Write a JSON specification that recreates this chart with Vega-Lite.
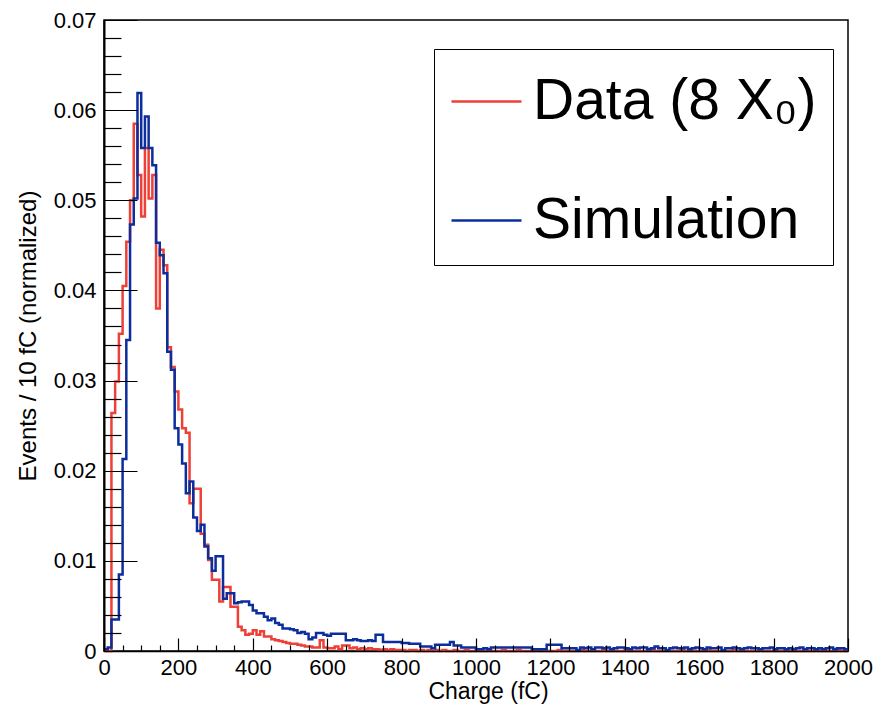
{
  "$schema": "https://vega.github.io/schema/vega-lite/v6.json",
  "width": 744,
  "height": 631,
  "autosize": {"type": "none"},
  "padding": {"left": 104, "top": 20, "right": 36, "bottom": 57},
  "background": "white",
  "data": {"values": [
    {"x":0,"d":0,"m":0.0002},{"x":10,"d":0,"m":0.0004},{"x":20,"d":0.0264,"m":0.0035},{"x":30,"d":0.0299,"m":0.0035},{"x":40,"d":0.0352,"m":0.0085},
    {"x":50,"d":0.0405,"m":0.0213},{"x":60,"d":0.0454,"m":0.0345},{"x":70,"d":0.05,"m":0.0473},{"x":80,"d":0.0585,"m":0.0502},{"x":90,"d":0.0528,"m":0.0619},
    {"x":100,"d":0.0482,"m":0.0558},{"x":110,"d":0.0558,"m":0.0593},{"x":120,"d":0.0502,"m":0.0558},{"x":130,"d":0.0528,"m":0.0539},{"x":140,"d":0.038,"m":0.0453},
    {"x":150,"d":0.0445,"m":0.0439},{"x":160,"d":0.0428,"m":0.0419},{"x":170,"d":0.0337,"m":0.0332},{"x":180,"d":0.0315,"m":0.0312},{"x":190,"d":0.0288,"m":0.0247},
    {"x":200,"d":0.0268,"m":0.0229},{"x":210,"d":0.0247,"m":0.0208},{"x":220,"d":0.0242,"m":0.0175},{"x":230,"d":0.0164,"m":0.0188},{"x":240,"d":0.018,"m":0.0148},
    {"x":250,"d":0.018,"m":0.0133},{"x":260,"d":0.013,"m":0.014},{"x":270,"d":0.0118,"m":0.0116},{"x":280,"d":0.0101,"m":0.0103},{"x":290,"d":0.0079,"m":0.0089},
    {"x":300,"d":0.0079,"m":0.0105},{"x":310,"d":0.0055,"m":0.0105},{"x":320,"d":0.0071,"m":0.0058},{"x":330,"d":0.0071,"m":0.0064},{"x":340,"d":0.0049,"m":0.0064},
    {"x":350,"d":0.0049,"m":0.0053},{"x":360,"d":0.0027,"m":0.0054},{"x":370,"d":0.0023,"m":0.0055},{"x":380,"d":0.0018,"m":0.0055},{"x":390,"d":0.0019,"m":0.0051},
    {"x":400,"d":0.0023,"m":0.0045},{"x":410,"d":0.0018,"m":0.0042},{"x":420,"d":0.0022,"m":0.0042},{"x":430,"d":0.0016,"m":0.0038},{"x":440,"d":0.0016,"m":0.0034},
    {"x":450,"d":0.0013,"m":0.0036},{"x":460,"d":0.0012,"m":0.0031},{"x":470,"d":0.0011,"m":0.0029},{"x":480,"d":0.001,"m":0.0025},{"x":490,"d":0.0009,"m":0.0025},
    {"x":500,"d":0.0008,"m":0.0024},{"x":510,"d":0.0008,"m":0.0023},{"x":520,"d":0.0007,"m":0.002},{"x":530,"d":0.0006,"m":0.0021},{"x":540,"d":0.0005,"m":0.0019},
    {"x":550,"d":0.0005,"m":0.0013},{"x":560,"d":0.0004,"m":0.0015},{"x":570,"d":0.0004,"m":0.002},{"x":580,"d":0.0012,"m":0.002},{"x":590,"d":0.0004,"m":0.0018},
    {"x":600,"d":0.0003,"m":0.0017},{"x":610,"d":0.0003,"m":0.0019},{"x":620,"d":0.0005,"m":0.0019},{"x":630,"d":0.0002,"m":0.0019},{"x":640,"d":0.0006,"m":0.0019},
    {"x":650,"d":0.0006,"m":0.0012},{"x":660,"d":0.0003,"m":0.0012},{"x":670,"d":0.0004,"m":0.0013},{"x":680,"d":0.0002,"m":0.0012},{"x":690,"d":0.0003,"m":0.0011},
    {"x":700,"d":0.0002,"m":0.0011},{"x":710,"d":0.0003,"m":0.0012},{"x":720,"d":0.0002,"m":0.0011},{"x":730,"d":0.0002,"m":0.0018},{"x":740,"d":0.0001,"m":0.0018},
    {"x":750,"d":0.0002,"m":0.001},{"x":760,"d":0.0001,"m":0.001},{"x":770,"d":0.0002,"m":0.001},{"x":780,"d":0.0001,"m":0.001},{"x":790,"d":0.0001,"m":0.001},
    {"x":800,"d":0.0001,"m":0.0009},{"x":810,"d":0,"m":0.0009},{"x":820,"d":0.0001,"m":0.0008},{"x":830,"d":0.0001,"m":0.0008},{"x":840,"d":0,"m":0.0008},
    {"x":850,"d":0.0001,"m":0.0005},{"x":860,"d":0,"m":0.0005},{"x":870,"d":0.0001,"m":0.0005},{"x":880,"d":0,"m":0.0003},{"x":890,"d":0.0001,"m":0.0007},
    {"x":900,"d":0,"m":0.0007},{"x":910,"d":0.0001,"m":0.0007},{"x":920,"d":0,"m":0.0007},{"x":930,"d":0,"m":0.001},{"x":940,"d":0.0001,"m":0.0006},
    {"x":950,"d":0,"m":0.0006},{"x":960,"d":0,"m":0.0004},{"x":970,"d":0.0001,"m":0.0004},{"x":980,"d":0,"m":0.0004},{"x":990,"d":0,"m":0.0004},
    {"x":1000,"d":0.0001,"m":0.0002},{"x":1010,"d":0,"m":0.0002},{"x":1020,"d":0,"m":0.0003},{"x":1030,"d":0.0001,"m":0.0002},{"x":1040,"d":0,"m":0.0004},
    {"x":1050,"d":0,"m":0.0004},{"x":1060,"d":0,"m":0.0004},{"x":1070,"d":0.0001,"m":0.0004},{"x":1080,"d":0,"m":0.0004},{"x":1090,"d":0,"m":0.0004},
    {"x":1100,"d":0,"m":0.0004},{"x":1110,"d":0.0001,"m":0.0004},{"x":1120,"d":0,"m":0.0004},{"x":1130,"d":0,"m":0.0004},{"x":1140,"d":0,"m":0.0004},
    {"x":1150,"d":0,"m":0.0002},{"x":1160,"d":0.0001,"m":0.0002},{"x":1170,"d":0,"m":0.0002},{"x":1180,"d":0,"m":0.0002},{"x":1190,"d":0,"m":0.0007},
    {"x":1200,"d":0,"m":0.0007},{"x":1210,"d":0,"m":0.0007},{"x":1220,"d":0.0001,"m":0.0007},{"x":1230,"d":0,"m":0.0003},{"x":1240,"d":0,"m":0.0003},
    {"x":1250,"d":0,"m":0.0003},{"x":1260,"d":0,"m":0.0003},{"x":1270,"d":0,"m":0.0001},{"x":1280,"d":0.0001,"m":0.0004},{"x":1290,"d":0,"m":0.0003},
    {"x":1300,"d":0,"m":0.0004},{"x":1310,"d":0,"m":0.0002},{"x":1320,"d":0,"m":0.0004},{"x":1330,"d":0,"m":0.0004},{"x":1340,"d":0.0001,"m":0.0003},
    {"x":1350,"d":0,"m":0.0004},{"x":1360,"d":0,"m":0.0002},{"x":1370,"d":0,"m":0.0003},{"x":1380,"d":0,"m":0.0004},{"x":1390,"d":0,"m":0.0004},
    {"x":1400,"d":0.0001,"m":0.0003},{"x":1410,"d":0,"m":0.0002},{"x":1420,"d":0,"m":0.0004},{"x":1430,"d":0,"m":0.0003},{"x":1440,"d":0,"m":0.0004},
    {"x":1450,"d":0,"m":0.0004},{"x":1460,"d":0,"m":0.0002},{"x":1470,"d":0.0001,"m":0.0003},{"x":1480,"d":0,"m":0.0005},{"x":1490,"d":0,"m":0.0003},
    {"x":1500,"d":0,"m":0.0003},{"x":1510,"d":0,"m":0.0001},{"x":1520,"d":0,"m":0.0003},{"x":1530,"d":0,"m":0.0004},{"x":1540,"d":0,"m":0.0003},
    {"x":1550,"d":0.0001,"m":0.0003},{"x":1560,"d":0,"m":0.0004},{"x":1570,"d":0,"m":0.0002},{"x":1580,"d":0,"m":0.0003},{"x":1590,"d":0,"m":0.0004},
    {"x":1600,"d":0,"m":0.0003},{"x":1610,"d":0,"m":0.0002},{"x":1620,"d":0.0001,"m":0.0004},{"x":1630,"d":0,"m":0.0003},{"x":1640,"d":0,"m":0.0003},
    {"x":1650,"d":0,"m":0.0004},{"x":1660,"d":0,"m":0.0001},{"x":1670,"d":0,"m":0.0003},{"x":1680,"d":0,"m":0.0003},{"x":1690,"d":0.0001,"m":0.0004},
    {"x":1700,"d":0,"m":0.0003},{"x":1710,"d":0,"m":0.0002},{"x":1720,"d":0,"m":0.0003},{"x":1730,"d":0,"m":0.0004},{"x":1740,"d":0,"m":0.0003},
    {"x":1750,"d":0,"m":0.0003},{"x":1760,"d":0.0001,"m":0.0002},{"x":1770,"d":0,"m":0.0003},{"x":1780,"d":0,"m":0.0003},{"x":1790,"d":0,"m":0.0004},
    {"x":1800,"d":0,"m":0.0002},{"x":1810,"d":0,"m":0.0003},{"x":1820,"d":0,"m":0.0003},{"x":1830,"d":0.0001,"m":0.0002},{"x":1840,"d":0,"m":0.0003},
    {"x":1850,"d":0,"m":0.0002},{"x":1860,"d":0,"m":0.0003},{"x":1870,"d":0,"m":0.0004},{"x":1880,"d":0,"m":0.0002},{"x":1890,"d":0,"m":0.0003},
    {"x":1900,"d":0,"m":0.0003},{"x":1910,"d":0.0001,"m":0.0002},{"x":1920,"d":0,"m":0.0003},{"x":1930,"d":0,"m":0.0002},{"x":1940,"d":0,"m":0.0003},
    {"x":1950,"d":0,"m":0.0004},{"x":1960,"d":0,"m":0.0002},{"x":1970,"d":0.0001,"m":0.0003},{"x":1980,"d":0,"m":0.0003},{"x":1990,"d":0,"m":0.0002},
    {"x":2000,"d":0,"m":0.0002}
  ]},
  "transform": [{"fold": ["d", "m"], "as": ["series", "y"]}],
  "layer": [
    {
      "mark": {"type": "line", "interpolate": "step-after", "strokeWidth": 2.5, "strokeJoin": "miter"},
      "encoding": {
        "x": {
          "field": "x", "type": "quantitative",
          "scale": {"domain": [0, 2000], "nice": false, "zero": false},
          "axis": {
            "orient": "bottom",
            "values": [0, 200, 400, 600, 800, 1000, 1200, 1400, 1600, 1800, 2000],
            "format": "d",
            "tickSize": -13, "tickWidth": 1.2, "tickColor": "black",
            "labelPadding": 19, "labelFontSize": 22, "labelColor": "black",
            "labelFlush": false, "labelOverlap": false,
            "domain": true, "domainColor": "black", "domainWidth": 1.5,
            "grid": false, "zindex": 1,
            "title": "Charge (fC)", "titleFontSize": 23, "titleFontWeight": "normal", "titleColor": "black",
            "titleX": 384, "titleY": 47, "titleBaseline": "alphabetic", "titleAlign": "center"
          }
        },
        "y": {
          "field": "y", "type": "quantitative",
          "scale": {"domain": [0, 0.07], "nice": false},
          "axis": {
            "orient": "left",
            "values": [0, 0.01, 0.02, 0.03, 0.04, 0.05, 0.06, 0.07],
            "labelExpr": "datum.value == 0 ? '0' : format(datum.value, '.2f')",
            "tickSize": -33, "tickWidth": 1.2, "tickColor": "black",
            "labelPadding": 41, "labelFontSize": 22, "labelColor": "black",
            "labelFlush": false, "labelOverlap": false,
            "domain": true, "domainColor": "black", "domainWidth": 2,
            "grid": false, "zindex": 1,
            "title": "Events / 10 fC (normalized)", "titleFontSize": 24, "titleFontWeight": "normal", "titleColor": "black",
            "titleX": -76, "titleY": 315.5, "titleBaseline": "middle", "titleAlign": "center", "titleAngle": -90
          }
        },
        "color": {
          "field": "series", "type": "nominal",
          "scale": {"domain": ["d", "m"], "range": ["#ee4036", "#0c2e9c"]},
          "legend": {
            "orient": "none", "legendX": 330, "legendY": 29,
            "direction": "vertical", "title": null,
            "labelExpr": "datum.label == 'd' ? 'Data (8 X₀)' : 'Simulation'",
            "symbolType": "stroke", "symbolSize": 4900, "symbolStrokeWidth": 2.5,
            "labelFontSize": 57, "labelColor": "black", "labelLimit": 0, "labelOffset": 10,
            "padding": 16, "rowPadding": 54,
            "strokeColor": "black", "fillColor": "white"
          }
        }
      }
    },
    {
      "mark": {"type": "line", "opacity": 0},
      "encoding": {
        "x": {
          "field": "x", "type": "quantitative",
          "axis": {
            "orient": "bottom",
            "values": [50,100,150,250,300,350,450,500,550,650,700,750,850,900,950,1050,1100,1150,1250,1300,1350,1450,1500,1550,1650,1700,1750,1850,1900,1950],
            "tickSize": -6, "tickWidth": 1.2, "tickColor": "black",
            "labels": false, "domain": false, "grid": false, "title": null, "zindex": 1
          }
        },
        "y": {
          "field": "y", "type": "quantitative",
          "axis": {
            "orient": "left",
            "values": [0.002,0.004,0.006,0.008,0.012,0.014,0.016,0.018,0.022,0.024,0.026,0.028,0.032,0.034,0.036,0.038,0.042,0.044,0.046,0.048,0.052,0.054,0.056,0.058,0.062,0.064,0.066,0.068],
            "tickSize": -17, "tickWidth": 1.2, "tickColor": "black",
            "labels": false, "domain": false, "grid": false, "title": null, "zindex": 1
          }
        },
        "detail": {"field": "series", "type": "nominal"}
      }
    }
  ],
  "resolve": {"axis": {"x": "independent", "y": "independent"}},
  "config": {
    "font": "Liberation Sans",
    "view": {"stroke": "black", "strokeWidth": 1.5}
  }
}
